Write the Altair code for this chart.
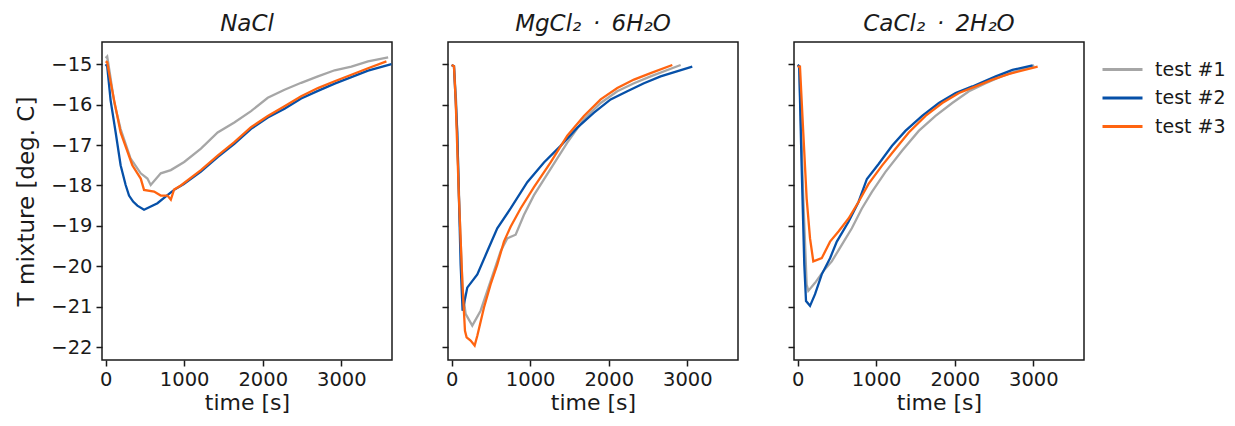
import altair as alt
import pandas as pd

SERIES = ["test #1", "test #2", "test #3"]
COLORS = ["#a6a6a6", "#0650a8", "#ff6410"]
Y_TICKS = [-15, -16, -17, -18, -19, -20, -21, -22]
X_TICKS = [0, 1000, 2000, 3000]
TITLES = ["NaCl", "MgCl\u2082\u2002\u00b7\u20026H\u2082O", "CaCl\u2082\u2002\u00b7\u20022H\u2082O"]

# ---- NaCl ----
nacl_1_t = [0, 20, 60, 110, 190, 319, 447, 532, 574, 702, 830, 1000, 1213, 1426, 1638, 1851, 2064, 2277, 2489, 2702, 2915, 3128, 3340, 3596]
nacl_1_T = [-14.85, -14.81, -15.3, -15.95, -16.6, -17.34, -17.7, -17.83, -17.99, -17.7, -17.62, -17.42, -17.09, -16.69, -16.44, -16.16, -15.83, -15.63, -15.46, -15.3, -15.15, -15.06, -14.93, -14.83]
nacl_2_t = [0, 20, 64, 128, 191, 255, 298, 350, 404, 489, 660, 787, 872, 991, 1213, 1426, 1638, 1851, 2064, 2277, 2489, 2702, 2915, 3128, 3340, 3638]
nacl_2_T = [-15.0, -15.05, -15.9, -16.69, -17.5, -17.99, -18.25, -18.4, -18.5, -18.6, -18.44, -18.24, -18.11, -17.97, -17.66, -17.3, -16.97, -16.6, -16.32, -16.1, -15.85, -15.66, -15.48, -15.32, -15.16, -15.0]
nacl_3_t = [0, 20, 60, 106, 191, 340, 447, 489, 617, 702, 787, 830, 872, 957, 1213, 1426, 1638, 1851, 2064, 2277, 2489, 2702, 2915, 3128, 3340, 3574]
nacl_3_T = [-14.93, -14.95, -15.4, -15.87, -16.69, -17.5, -17.83, -18.11, -18.15, -18.25, -18.25, -18.35, -18.1, -18.0, -17.62, -17.26, -16.93, -16.56, -16.28, -16.04, -15.79, -15.59, -15.42, -15.26, -15.1, -14.93]

# ---- MgCl2 . 6H2O ----
mg_1_t = [0, 30, 60, 100, 140, 178, 263, 369, 496, 624, 708, 815, 920, 1048, 1260, 1472, 1684, 1897, 2109, 2321, 2533, 2915]
mg_1_T = [-15.02, -15.05, -16.0, -18.6, -20.6, -21.18, -21.47, -21.1, -20.37, -19.63, -19.31, -19.22, -18.73, -18.24, -17.59, -16.94, -16.36, -15.96, -15.67, -15.47, -15.3, -15.02]
mg_2_t = [0, 30, 72, 115, 140, 199, 327, 454, 581, 751, 963, 1175, 1387, 1600, 1812, 2024, 2236, 2448, 2660, 3063]
mg_2_T = [-15.02, -15.05, -16.69, -19.96, -21.1, -20.53, -20.2, -19.63, -19.06, -18.57, -17.92, -17.43, -17.02, -16.57, -16.2, -15.87, -15.67, -15.47, -15.3, -15.06]
mg_3_t = [0, 30, 51, 93, 136, 170, 191, 242, 293, 327, 412, 496, 581, 666, 751, 878, 1048, 1260, 1472, 1684, 1897, 2109, 2321, 2533, 2809]
mg_3_T = [-15.02, -15.05, -15.86, -18.3, -20.37, -21.6, -21.76, -21.84, -21.96, -21.72, -21.02, -20.45, -19.96, -19.39, -19.02, -18.57, -18.04, -17.43, -16.77, -16.28, -15.87, -15.59, -15.38, -15.22, -15.02]

# ---- CaCl2 . 2H2O ----
ca_1_t = [0, 20, 72, 115, 136, 222, 328, 435, 562, 690, 818, 946, 1116, 1329, 1542, 1755, 1968, 2181, 2394, 2607, 3012]
ca_1_T = [-15.02, -15.05, -18.3, -20.45, -20.61, -20.41, -20.12, -19.88, -19.47, -19.06, -18.57, -18.16, -17.67, -17.14, -16.65, -16.28, -15.96, -15.67, -15.47, -15.29, -15.03]
ca_2_t = [0, 20, 51, 85, 107, 158, 222, 307, 413, 499, 648, 775, 882, 1031, 1202, 1372, 1585, 1798, 2011, 2224, 2522, 2735, 2991]
ca_2_T = [-15.02, -15.05, -17.51, -19.96, -20.86, -20.98, -20.69, -20.2, -19.8, -19.39, -18.9, -18.41, -17.84, -17.47, -17.02, -16.65, -16.28, -15.96, -15.71, -15.55, -15.3, -15.14, -15.03]
ca_3_t = [0, 30, 72, 115, 158, 200, 307, 413, 520, 648, 775, 903, 1074, 1244, 1415, 1628, 1841, 2054, 2267, 2480, 2693, 3055]
ca_3_T = [-15.06, -15.06, -16.69, -18.32, -19.31, -19.88, -19.8, -19.39, -19.14, -18.82, -18.41, -17.96, -17.51, -17.1, -16.69, -16.28, -15.96, -15.71, -15.55, -15.38, -15.24, -15.06]

PANELS = [
    [(nacl_1_t, nacl_1_T), (nacl_2_t, nacl_2_T), (nacl_3_t, nacl_3_T)],
    [(mg_1_t, mg_1_T), (mg_2_t, mg_2_T), (mg_3_t, mg_3_T)],
    [(ca_1_t, ca_1_T), (ca_2_t, ca_2_T), (ca_3_t, ca_3_T)],
]

FONT = "DejaVu Sans"
INK = "#1a1a1a"


def make_panel(i):
    rows = []
    for name, (ts, Ts) in zip(SERIES, PANELS[i]):
        for a, b in zip(ts, Ts):
            rows.append({"series": name, "t": a, "T": b})
    df = pd.DataFrame(rows)
    first = i == 0
    yaxis_kw = dict(values=Y_TICKS, labels=first, format="d", grid=False, domain=False,
                    titlePadding=12, labelPadding=4)
    if first:
        yaxis_kw["title"] = "T mixture [deg. C]"
    else:
        yaxis_kw["title"] = None
    return (
        alt.Chart(df, title=alt.TitleParams(TITLES[i], fontStyle="italic", fontSize=23,
                                            fontWeight="normal", font=FONT, color=INK, offset=6))
        .mark_line(strokeWidth=2.3, clip=True)
        .encode(
            x=alt.X("t:Q", scale=alt.Scale(domain=[-46, 3645], nice=False, zero=False),
                    axis=alt.Axis(values=X_TICKS, format="d", title="time [s]", grid=False,
                                  domain=False, labelPadding=4, titlePadding=4,
                                  titleFontSize=22)),
            y=alt.Y("T:Q", scale=alt.Scale(domain=[-22.32, -14.45], nice=False, zero=False),
                    axis=alt.Axis(**yaxis_kw)),
            color=alt.Color("series:N", scale=alt.Scale(domain=SERIES, range=COLORS),
                            legend=alt.Legend(title=None, orient="none", legendX=1009, legendY=16,
                                              padding=0, symbolType="M-2,0H2", symbolSize=400,
                                              symbolStrokeWidth=3, labelFontSize=19,
                                              labelFont=FONT, labelColor=INK, labelOffset=21,
                                              rowPadding=6.5)),
            detail="series:N",
        )
        .properties(width=290, height=318)
    )


chart = (
    alt.hconcat(make_panel(0), make_panel(1), make_panel(2), spacing=47)
    .properties(padding={"left": 7, "top": 4, "right": 0, "bottom": 0})
    .configure_view(stroke=INK, strokeWidth=1.5)
    .configure_axis(labelFont=FONT, labelFontSize=19.5, labelColor=INK, titleFont=FONT,
                    titleFontSize=23, titleFontWeight="normal", titleColor=INK,
                    tickColor=INK, tickSize=6, tickWidth=1.5)
)

chart.save("out.html", embed_options={"renderer": "svg", "actions": False})
